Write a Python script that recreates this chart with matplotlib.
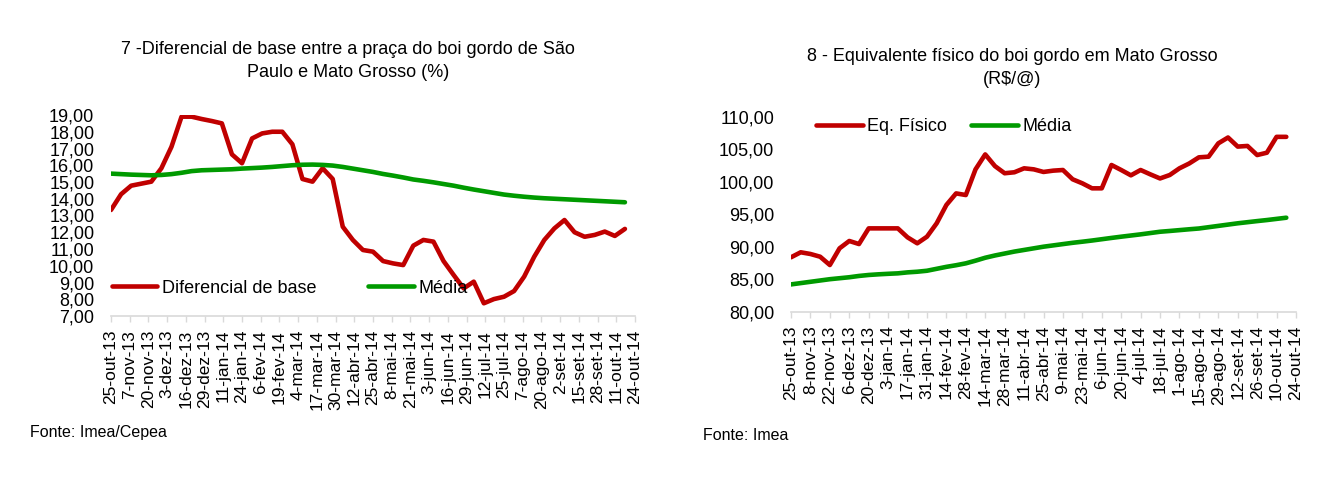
import numpy as np
import pandas as pd
import matplotlib
matplotlib.use('Agg')
import matplotlib.pyplot as plt

plt.rcParams['font.family'] = ['Liberation Sans', 'DejaVu Sans']

# datas semanais (sexta-feira)
datas = pd.date_range('2013-10-25', periods=52, freq='7D')

# grafico 7 - diferencial de base SP x MT (%)
diferencial = [13.33, 14.27, 14.78, 14.90, 15.02, 15.82, 17.10, 18.90, 18.90, 18.76,
               18.64, 18.50, 16.65, 16.12, 17.60, 17.90, 18.00, 18.00, 17.25, 15.18,
               15.02, 15.82, 15.18, 12.33, 11.54, 10.94, 10.84, 10.28, 10.14, 10.04,
               11.20, 11.54, 11.44, 10.28, 9.45, 8.65, 9.05, 7.76, 8.01, 8.15,
               8.49, 9.35, 10.54, 11.54, 12.23, 12.73, 12.00, 11.73, 11.84, 12.04,
               11.78, 12.20]
media_dif = [15.50, 15.47, 15.44, 15.42, 15.40, 15.42, 15.47, 15.55, 15.65, 15.70,
             15.72, 15.74, 15.76, 15.80, 15.83, 15.86, 15.90, 15.95, 16.00, 16.03,
             16.04, 16.02, 15.98, 15.90, 15.80, 15.70, 15.60, 15.48, 15.38, 15.27,
             15.15, 15.07, 14.98, 14.88, 14.78, 14.66, 14.55, 14.45, 14.35, 14.25,
             14.18, 14.12, 14.07, 14.03, 14.00, 13.97, 13.94, 13.91, 13.88, 13.85,
             13.82, 13.79]
ticks_dif = pd.date_range('2013-10-25', '2014-10-24', freq='13D')
labels_dif = ['25-out-13', '7-nov-13', '20-nov-13', '3-dez-13', '16-dez-13', '29-dez-13',
              '11-jan-14', '24-jan-14', '6-fev-14', '19-fev-14', '4-mar-14', '17-mar-14',
              '30-mar-14', '12-abr-14', '25-abr-14', '8-mai-14', '21-mai-14', '3-jun-14',
              '16-jun-14', '29-jun-14', '12-jul-14', '25-jul-14', '7-ago-14', '20-ago-14',
              '2-set-14', '15-set-14', '28-set-14', '11-out-14', '24-out-14']
yticks_dif = np.arange(7, 20, 1)

# grafico 8 - equivalente fisico (R$/@)
eq_fisico = [88.37, 89.14, 88.88, 88.46, 87.18, 89.75, 90.88, 90.41, 92.82, 92.82,
             92.82, 92.82, 91.44, 90.52, 91.54, 93.60, 96.42, 98.20, 97.95, 101.90,
             104.20, 102.40, 101.30, 101.45, 102.06, 101.90, 101.50, 101.70, 101.80, 100.37,
             99.75, 98.98, 98.98, 102.57, 101.80, 100.98, 101.80, 101.13, 100.50, 101.03,
             102.06, 102.80, 103.75, 103.85, 105.90, 106.80, 105.40, 105.50, 104.10, 104.46,
             106.90, 106.90]
media_eq = [84.20, 84.40, 84.60, 84.80, 85.00, 85.15, 85.30, 85.50, 85.65, 85.75,
            85.83, 85.90, 86.05, 86.15, 86.30, 86.60, 86.90, 87.15, 87.44, 87.85,
            88.30, 88.65, 88.95, 89.25, 89.50, 89.75, 90.00, 90.20, 90.40, 90.60,
            90.77, 90.95, 91.15, 91.35, 91.54, 91.72, 91.90, 92.10, 92.30, 92.42,
            92.55, 92.68, 92.80, 93.00, 93.20, 93.40, 93.60, 93.77, 93.94, 94.10,
            94.28, 94.46]
ticks_eq = pd.date_range('2013-10-25', '2014-10-24', freq='14D')
labels_eq = ['25-out-13', '8-nov-13', '22-nov-13', '6-dez-13', '20-dez-13', '3-jan-14',
             '17-jan-14', '31-jan-14', '14-fev-14', '28-fev-14', '14-mar-14', '28-mar-14',
             '11-abr-14', '25-abr-14', '9-mai-14', '23-mai-14', '6-jun-14', '20-jun-14',
             '4-jul-14', '18-jul-14', '1-ago-14', '15-ago-14', '29-ago-14', '12-set-14',
             '26-set-14', '10-out-14', '24-out-14']
yticks_eq = np.arange(80, 111, 5)

red = '#C00000'
green = '#009A00'
grey = '#D9D9D9'
fs = 12.5

fig = plt.figure(figsize=(13.28, 4.79), dpi=100)
W, H = 1328.0, 479.0

def estilo(ax, ticks, labels, yticks):
    ax.set_xticks(ticks)
    ax.set_xticklabels(labels, rotation=90, fontsize=fs)
    ax.set_xlim(ticks[0], ticks[-1])
    ax.set_yticks(yticks)
    ax.set_yticklabels([('%.2f' % v).replace('.', ',') for v in yticks], fontsize=13)
    ax.set_ylim(yticks[0], yticks[-1])
    for s in ['top', 'right', 'left']:
        ax.spines[s].set_visible(False)
    ax.spines['bottom'].set_color(grey)
    ax.spines['bottom'].set_linewidth(1.2)
    ax.tick_params(axis='x', direction='out', length=4, width=1, color=grey, pad=6)
    ax.tick_params(axis='y', length=0, pad=12)

# --- grafico esquerdo
ax1 = fig.add_axes([111 / W, 1 - 316 / H, 524 / W, 201 / H])
ax1.plot(datas, diferencial, color=red, lw=3.3, label='Diferencial de base', solid_capstyle='round')
ax1.plot(datas, media_dif, color=green, lw=3.3, label='Média', solid_capstyle='round')
estilo(ax1, ticks_dif, labels_dif, yticks_dif)
ax1.legend(loc='lower left', bbox_to_anchor=(-0.012, 0.06), ncol=2, frameon=False,
           fontsize=13, handlelength=2.5, handletextpad=0.25, columnspacing=2.9,
           borderaxespad=0)
fig.text(348 / W, 1 - 61 / H, '7 -Diferencial de base entre a praça do boi gordo de São\nPaulo e Mato Grosso (%)',
         ha='center', va='center', fontsize=13, linespacing=1.45)
fig.text(30 / W, 1 - 432 / H, 'Fonte: Imea/Cepea', ha='left', va='center', fontsize=11.5)

# --- grafico direito
ax2 = fig.add_axes([791 / W, 1 - 311.7 / H, 505 / W, 195 / H])
ax2.plot(datas, eq_fisico, color=red, lw=3.3, label='Eq. Físico', solid_capstyle='round')
ax2.plot(datas, media_eq, color=green, lw=3.3, label='Média', solid_capstyle='round')
estilo(ax2, ticks_eq, labels_eq, yticks_eq)
ax2.legend(loc='center left', bbox_to_anchor=(0.035, 0.95), ncol=2, frameon=False,
           fontsize=13, handlelength=2.6, handletextpad=0.25, columnspacing=1.3,
           borderaxespad=0)
fig.text(1012 / W, 1 - 68 / H, '8 - Equivalente físico do boi gordo em Mato Grosso\n(R$/@)',
         ha='center', va='center', fontsize=13, linespacing=1.4)
fig.text(703 / W, 1 - 436 / H, 'Fonte: Imea', ha='left', va='center', fontsize=11.5)

fig.savefig('out.png', dpi=100)
